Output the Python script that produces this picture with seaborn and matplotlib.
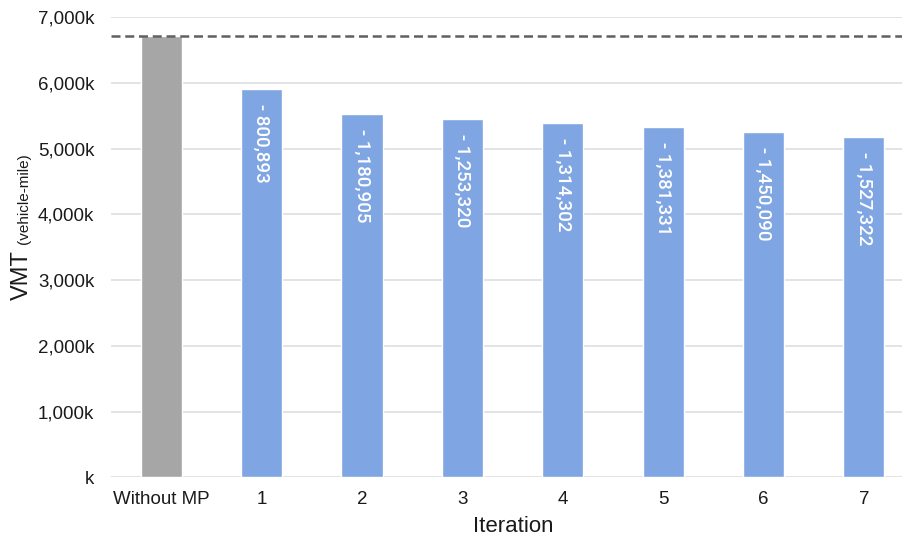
import matplotlib
matplotlib.use("Agg")
from matplotlib import pyplot as plt
from matplotlib.ticker import FuncFormatter, MultipleLocator
import seaborn as sns
import pandas as pd

# values (vehicle-miles)
categories = ["Without MP", "1", "2", "3", "4", "5", "6", "7"]
vmt = [6710000, 5909107, 5529095, 5456680, 5395698, 5328669, 5259910, 5182678]
reduction = [None, 800893, 1180905, 1253320, 1314302, 1381331, 1450090, 1527322]
baseline = 6710000

bar_colors = ["#A6A6A6"] + ["#7FA6E3"] * 7


def k_fmt(v, pos):
    if v == 0:
        return "k"
    return f"{int(round(v / 1000)):,}k"


def main() -> None:
    sns.set_style("white")
    plt.rcParams["font.family"] = ["Liberation Sans", "DejaVu Sans"]

    df = pd.DataFrame({"Iteration": categories, "VMT": vmt})

    fig = plt.figure(figsize=(9.02, 5.40), dpi=100)
    ax = fig.add_axes([111 / 902, 1 - 477.3 / 540, 1 - 111 / 902, (477.3 - 17.3) / 540])

    sns.barplot(data=df, x="Iteration", y="VMT", hue="Iteration", palette=bar_colors,
                width=0.41, legend=False, ax=ax, saturation=1, zorder=3)

    ax.set_ylim(0, 7000000)
    ax.set_xlim(-0.5, 7.38)
    ax.yaxis.set_major_locator(MultipleLocator(1000000))
    ax.yaxis.set_major_formatter(FuncFormatter(k_fmt))
    ax.grid(axis="y", color="#E3E3E3", linewidth=1.4, zorder=0)
    ax.set_axisbelow(True)
    for s in ax.spines.values():
        s.set_visible(False)
    ax.tick_params(axis="both", length=0, labelsize=13.5, colors="#1A1A1A")
    ax.tick_params(axis="y", pad=12)
    ax.tick_params(axis="x", pad=10)

    ax.axhline(baseline, color="#606060", linewidth=1.8, linestyle=(0, (3.6, 1.9)), zorder=4)

    # reduction labels inside the bars
    for i, r in enumerate(reduction):
        if r is None:
            continue
        ax.text(i, vmt[i] - 230000, f"- {r:,}", rotation=-90, ha="center", va="top",
                color="white", fontsize=13.5, family=["Roboto", "DejaVu Sans"],
                fontweight="medium", zorder=5)

    ax.set_xlabel("Iteration", fontsize=16, color="#1A1A1A")
    ax.xaxis.label.set_va("center")
    ax.xaxis.set_label_coords(0.508, (477.3 - 527) / 460)
    ax.set_ylabel("")

    # y label: large "VMT" followed by small "(vehicle-mile)"
    t1 = fig.text(28 / 902, 1 - 300 / 540, "VMT", rotation=90, rotation_mode="anchor",
                  ha="left", va="baseline", fontsize=17, color="#1A1A1A")
    fig.canvas.draw()
    bb = t1.get_window_extent()
    fig.text(28 / 902, (bb.y1 + 6) / fig.bbox.height, "(vehicle-mile)", rotation=90,
             rotation_mode="anchor", ha="left", va="baseline", fontsize=11, color="#1A1A1A")

    fig.savefig("out.png", dpi=100)


if __name__ == "__main__":
    main()
